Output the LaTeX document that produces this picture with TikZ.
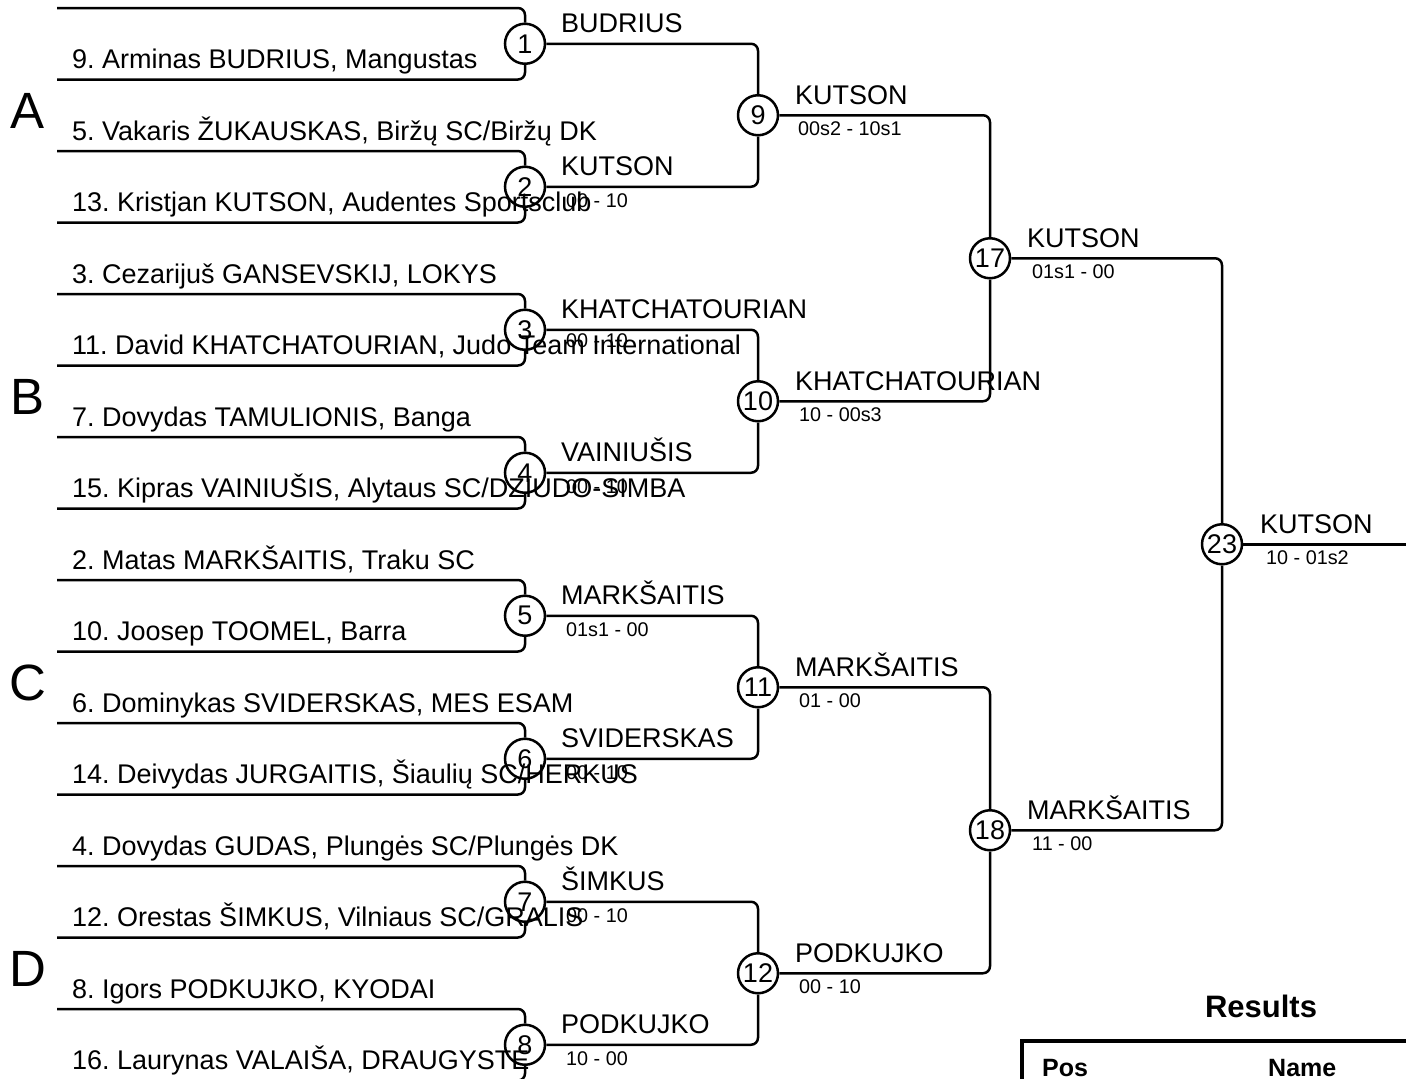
\documentclass[tikz,border=0pt]{standalone}
\usepackage{fontspec}
\setmainfont{Liberation Sans}
\usetikzlibrary{calc}
\frenchspacing
\begin{document}
\frenchspacing
\begin{tikzpicture}[x=1pt,y=-1pt,
  ln/.style={line width=2.5pt, rounded corners=7pt},
  mcirc/.style={circle, draw, line width=2.5pt, minimum size=40pt, inner sep=0pt, font=\fontsize{27}{30}\selectfont},
  pname/.style={anchor=base west, inner sep=0pt, font=\fontsize{27}{30}\selectfont},
  wname/.style={anchor=base west, inner sep=0pt, font=\fontsize{27}{30}\selectfont},
  score/.style={anchor=base west, inner sep=0pt, font=\fontsize{19.8}{22}\selectfont},
  grp/.style={inner sep=0pt, font=\fontsize{51}{56}\selectfont},
  rtitle/.style={inner sep=0pt, font=\fontsize{31}{36}\selectfont\bfseries},
  rhead/.style={anchor=base west, inner sep=0pt, font=\fontsize{25}{30}\selectfont\bfseries},
  tbl/.style={line width=4pt}
]
\useasboundingbox (0,0) rectangle (1406,1079);

% first round circles and feeder points
\foreach \j in {1,...,8} {
  \pgfmathsetmacro\ya{8+143*(\j-1)}
  \pgfmathsetmacro\yb{\ya+71.5}
  \pgfmathsetmacro\yc{\ya+35.75}
  \node[mcirc] (m\j) at (525,\yc) {\j};
  \coordinate (pa\j) at (57,\ya);
  \coordinate (pb\j) at (57,\yb);
  \draw[ln] (pa\j) -| (m\j.north);
  \draw[ln] (pb\j) -| (m\j.south);
}

% later rounds
\node[mcirc] (m9)  at (758,115.25) {9};
\node[mcirc] (m10) at (758,401.25) {10};
\node[mcirc] (m11) at (758,687.25) {11};
\node[mcirc] (m12) at (758,973.25) {12};
\node[mcirc] (m17) at (990,258.25) {17};
\node[mcirc] (m18) at (990,830.25) {18};
\node[mcirc] (m23) at (1222,544.25) {23};
\coordinate (fin) at (1415,544.25);

\draw[ln] (m1.east) -| (m9.north);
\draw[ln] (m2.east) -| (m9.south);
\draw[ln] (m3.east) -| (m10.north);
\draw[ln] (m4.east) -| (m10.south);
\draw[ln] (m5.east) -| (m11.north);
\draw[ln] (m6.east) -| (m11.south);
\draw[ln] (m7.east) -| (m12.north);
\draw[ln] (m8.east) -| (m12.south);
\draw[ln] (m9.east) -| (m17.north);
\draw[ln] (m10.east) -| (m17.south);
\draw[ln] (m11.east) -| (m18.north);
\draw[ln] (m12.east) -| (m18.south);
\draw[ln] (m17.east) -| (m23.north);
\draw[ln] (m18.east) -| (m23.south);
\draw[ln] (m23.east) -- (fin);

% player names
\node[pname] (n1)  at (72,68.5)   {9. Arminas BUDRIUS, Mangustas};
\node[pname] (n2)  at (72,140)    {5. Vakaris ŽUKAUSKAS, Biržų SC/Biržų DK};
\node[pname] (n3)  at (72,211.5)  {13. Kristjan KUTSON, Audentes Sportsclub};
\node[pname] (n4)  at (72,283)    {3. Cezarijuš GANSEVSKIJ, LOKYS};
\node[pname] (n5)  at (72,354.5)  {11. David KHATCHATOURIAN, Judo Team International};
\node[pname] (n6)  at (72,426)    {7. Dovydas TAMULIONIS, Banga};
\node[pname] (n7)  at (72,497.5)  {15. Kipras VAINIUŠIS, Alytaus SC/DZIUDO-SIMBA};
\node[pname] (n8)  at (72,569)    {2. Matas MARKŠAITIS, Traku SC};
\node[pname] (n9)  at (72,640.5)  {10. Joosep TOOMEL, Barra};
\node[pname] (n10) at (72,712)    {6. Dominykas SVIDERSKAS, MES ESAM};
\node[pname] (n11) at (72,783.5)  {14. Deivydas JURGAITIS, Šiaulių SC/HERKUS};
\node[pname] (n12) at (72,855)    {4. Dovydas GUDAS, Plungės SC/Plungės DK};
\node[pname] (n13) at (72,926.5)  {12. Orestas ŠIMKUS, Vilniaus SC/GRALIS};
\node[pname] (n14) at (72,998)    {8. Igors PODKUJKO, KYODAI};
\node[pname] (n15) at (72,1069.5) {16. Laurynas VALAIŠA, DRAUGYSTE};

% group letters
\node[grp] (ga) at (28,111) {A};
\node[grp] (gb) at (28,397) {B};
\node[grp] (gc) at (28,683) {C};
\node[grp] (gd) at (28,969) {D};

% winners and scores
\node[wname] (w1)  at ($(m1)+(36,-11)$)  {BUDRIUS};
\node[wname] (w2)  at ($(m2)+(36,-11)$)  {KUTSON};
\node[score] (s2)  at ($(m2)+(41,20.5)$) {00 - 10};
\node[wname] (w3)  at ($(m3)+(36,-11)$)  {KHATCHATOURIAN};
\node[score] (s3)  at ($(m3)+(41,18)$)   {00 - 10};
\node[wname] (w4)  at ($(m4)+(36,-11)$)  {VAINIUŠIS};
\node[score] (s4)  at ($(m4)+(41,20.5)$) {00 - 10};
\node[wname] (w5)  at ($(m5)+(36,-11)$)  {MARKŠAITIS};
\node[score] (s5)  at ($(m5)+(41,20.5)$) {01s1 - 00};
\node[wname] (w6)  at ($(m6)+(36,-11)$)  {SVIDERSKAS};
\node[score] (s6)  at ($(m6)+(41,20.5)$) {00 - 10};
\node[wname] (w7)  at ($(m7)+(36,-11)$)  {ŠIMKUS};
\node[score] (s7)  at ($(m7)+(41,20.5)$) {00 - 10};
\node[wname] (w8)  at ($(m8)+(36,-11)$)  {PODKUJKO};
\node[score] (s8)  at ($(m8)+(41,20.5)$) {10 - 00};
\node[wname] (w9)  at ($(m9)+(37,-11)$)  {KUTSON};
\node[score] (s9)  at ($(m9)+(40,20.5)$) {00s2 - 10s1};
\node[wname] (w10) at ($(m10)+(37,-11)$) {KHATCHATOURIAN};
\node[score] (s10) at ($(m10)+(41,20.5)$) {10 - 00s3};
\node[wname] (w11) at ($(m11)+(37,-11)$) {MARKŠAITIS};
\node[score] (s11) at ($(m11)+(41,20.5)$) {01 - 00};
\node[wname] (w12) at ($(m12)+(37,-11)$) {PODKUJKO};
\node[score] (s12) at ($(m12)+(41,20.5)$) {00 - 10};
\node[wname] (w17) at ($(m17)+(37,-11)$) {KUTSON};
\node[score] (s17) at ($(m17)+(42,20.5)$) {01s1 - 00};
\node[wname] (w18) at ($(m18)+(37,-11)$) {MARKŠAITIS};
\node[score] (s18) at ($(m18)+(42,20.5)$) {11 - 00};
\node[wname] (w23) at ($(m23)+(38,-11)$) {KUTSON};
\node[score] (s23) at ($(m23)+(44,20.5)$) {10 - 01s2};

% results table
\node[rtitle] (rt) at (1261,1006) {Results};
\coordinate (tl) at (1022,1041);
\coordinate (tr) at (1415,1041);
\coordinate (bl) at (1022,1090);
\draw[tbl] (bl) -- (tl) -- (tr);
\node[rhead] (hpos)  at (1042,1076) {Pos};
\node[rhead] (hname) at (1268,1076) {Name};
\end{tikzpicture}
\end{document}
